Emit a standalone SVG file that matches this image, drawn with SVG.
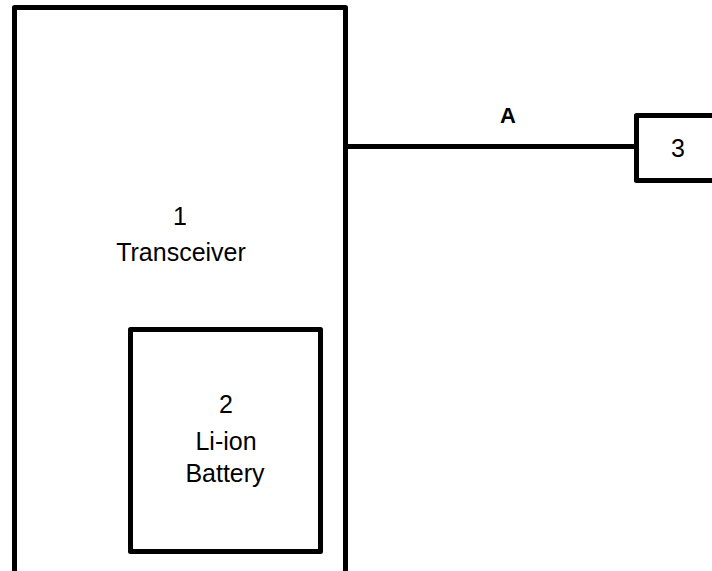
<svg xmlns="http://www.w3.org/2000/svg" width="712" height="571" viewBox="0 0 712 571">
<style>
.box{fill:none;stroke:#000;stroke-width:5;stroke-linejoin:round}
.t{font-family:"Liberation Sans",Arial,sans-serif;font-size:25px;fill:#000;text-anchor:middle}
.b{font-weight:bold;font-size:22px}
</style>
<rect width="712" height="571" fill="#fff"/>
<g id="node1">
<path class="box" d="M14.5,575 V7.5 H345.5 V575"/>
<text class="t" x="180" y="225">1</text>
<text class="t" x="181" y="261">Transceiver</text>
</g>
<g id="node2">
<rect class="box" x="130.5" y="329.5" width="190" height="222"/>
<text class="t" x="226" y="413">2</text>
<text class="t" x="226" y="450">Li-ion</text>
<text class="t" x="225" y="482">Battery</text>
</g>
<g id="node3">
<path class="box" d="M720,115.5 H636.5 V180.5 H720"/>
<text class="t" x="678" y="157">3</text>
</g>
<g id="connectors">
<line x1="348" y1="146.5" x2="634" y2="146.5" stroke="#000" stroke-width="5"/>
<text class="t b" x="508" y="123">A</text>
</g>
</svg>
